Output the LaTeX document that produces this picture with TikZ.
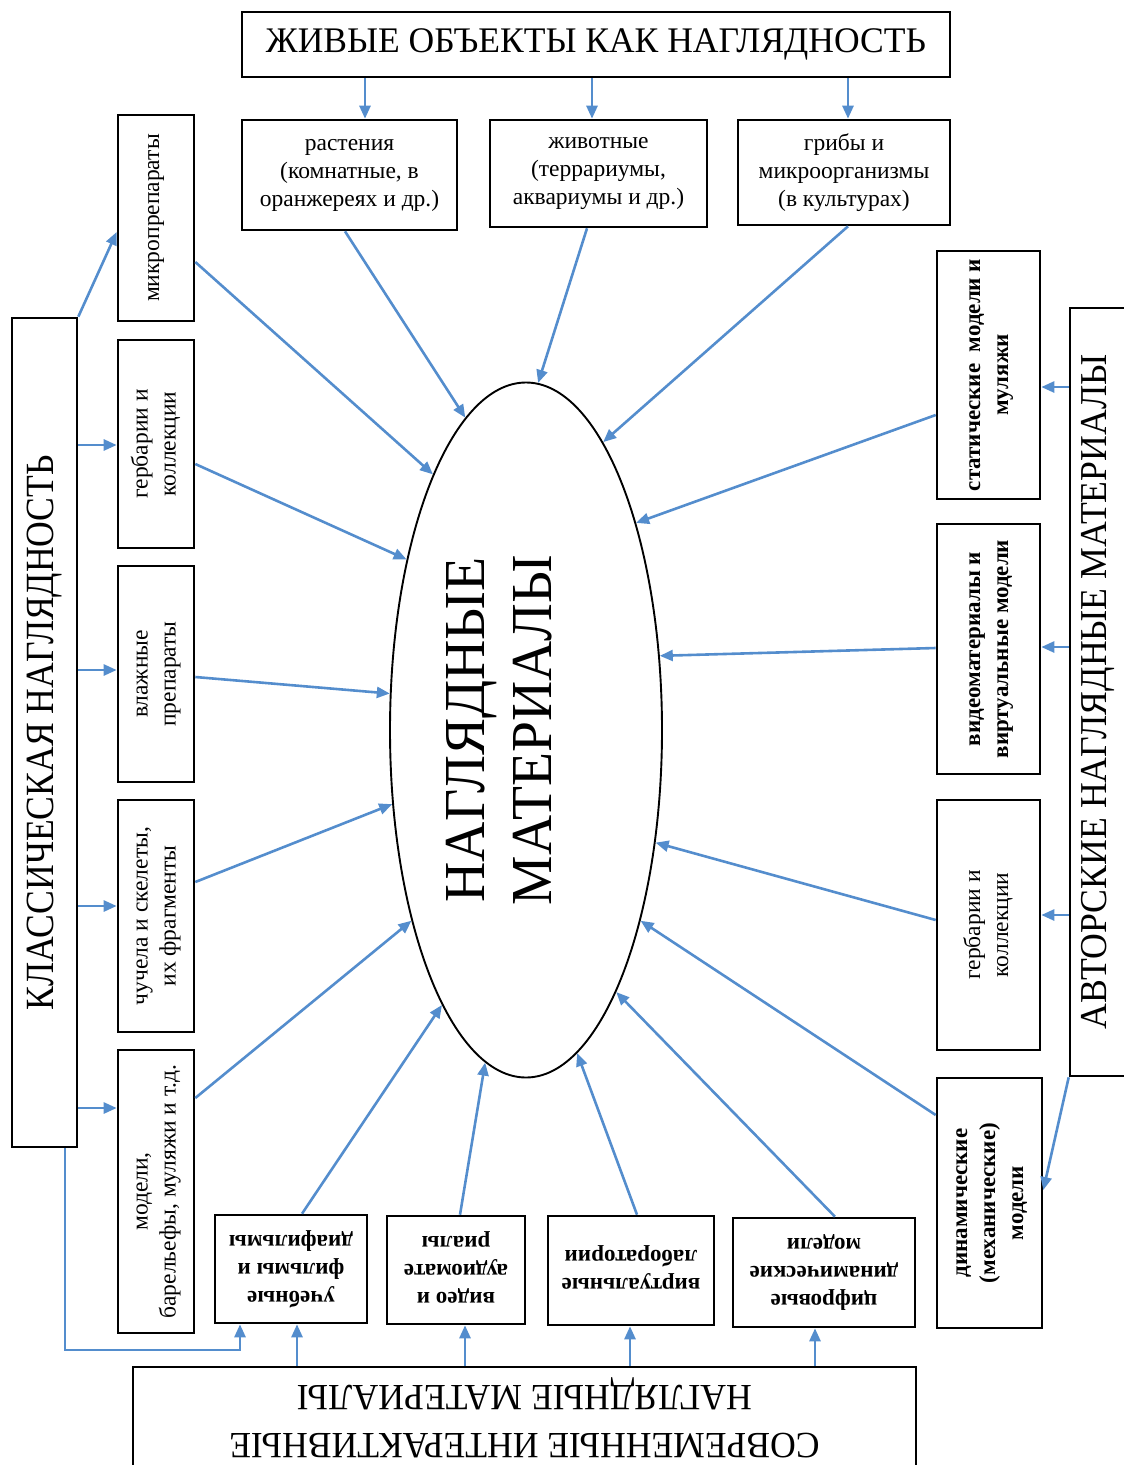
\documentclass[tikz,border=0pt]{standalone}
\usepackage{fontspec}
\setmainfont{Liberation Serif}
\usepackage{graphicx}
\usetikzlibrary{arrows.meta,shapes.geometric,calc}
\definecolor{arrblue}{RGB}{84,141,205}
\newcommand\hfit[2]{\resizebox{#1}{\height}{#2}}
\newcommand\tl[1]{\begin{tabular}{@{}c@{}}#1\end{tabular}}
\begin{document}
\begin{tikzpicture}[x=1pt,y=-1pt,
  box/.style={draw, line width=2.6pt, inner sep=0pt, align=center, font=\fontsize{23.5}{28}\selectfont},
  bbox/.style={box, font=\bfseries\fontsize{23}{28}\selectfont},
  arr/.style={draw=arrblue, line width=2.6pt, -{Triangle[length=13pt,width=11pt]}}]
\useasboundingbox (0,0) rectangle (1124,1465);
% top
\node[box, minimum width=708pt, minimum height=65pt, font=\fontsize{36}{40}\selectfont] (T) at (596,44.5) {\hfit{660pt}{ЖИВЫЕ ОБЪЕКТЫ КАК НАГЛЯДНОСТЬ}};
\node[box, minimum width=215pt, minimum height=110pt] (P) at (349.5,175) {растения\\(комнатные, в\\оранжереях и др.)};
\node[box, minimum width=217pt, minimum height=107pt] (An) at (598.5,173.5) {животные\\(террариумы,\\аквариумы и др.)};
\node[box, minimum width=212pt, minimum height=105pt] (F) at (844,172.5) {грибы и\\микроорганизмы\\(в культурах)};
% left
\node[box, minimum width=65pt, minimum height=829pt, font=\fontsize{40}{44}\selectfont] (L) at (44.5,732.5) {\rotatebox{90}{\hfit{555pt}{КЛАССИЧЕСКАЯ НАГЛЯДНОСТЬ}}};
\node[box, minimum width=76pt, minimum height=206pt] (B1) at (156,218) {\rotatebox{90}{микропрепараты}};
\node[box, minimum width=76pt, minimum height=208pt] (B2) at (156,444) {\rotatebox{90}{\tl{гербарии и\\коллекции}}};
\node[box, minimum width=76pt, minimum height=216pt] (B3) at (156,674) {\rotatebox{90}{\tl{влажные\\препараты}}};
\node[box, minimum width=76pt, minimum height=232pt] (B4) at (156,916) {\rotatebox{90}{\tl{чучела и скелеты,\\их фрагменты}}};
\node[box, minimum width=76pt, minimum height=283pt] (B5) at (156,1191.5) {\rotatebox{90}{\tl{модели,\\барельефы, муляжи и т.д.}}};
% right
\node[box, minimum width=56pt, minimum height=768pt, font=\fontsize{38}{42}\selectfont] (A) at (1098,692) {\rotatebox{90}{\hfit{675pt}{АВТОРСКИЕ НАГЛЯДНЫЕ МАТЕРИАЛЫ}}};
\node[bbox, minimum width=103pt, minimum height=248pt] (R1) at (988.5,375) {\rotatebox{90}{\tl{статические~~модели и\\муляжи}}};
\node[bbox, minimum width=103pt, minimum height=250pt] (R2) at (988.5,649) {\rotatebox{90}{\tl{видеоматериалы и\\виртуальные модели}}};
\node[box, minimum width=103pt, minimum height=250pt] (R3) at (988.5,925) {\rotatebox{90}{\tl{гербарии и\\коллекции}}};
\node[bbox, minimum width=105pt, minimum height=250pt] (R4) at (989.5,1203) {\rotatebox{90}{\tl{динамические\\(механические)\\модели}}};
% bottom
\node[bbox, minimum width=152pt, minimum height=108pt] (U) at (291,1269) {\rotatebox{180}{\tl{учебные\\фильмы и\\диафильмы}}};
\node[bbox, minimum width=138pt, minimum height=108pt] (V) at (456,1270) {\rotatebox{180}{\tl{видео и\\аудиомате\\риалы}}};
\node[bbox, minimum width=166pt, minimum height=109pt] (W) at (631,1270.5) {\rotatebox{180}{\tl{виртуальные\\лаборатории}}};
\node[bbox, minimum width=182pt, minimum height=109pt] (D) at (824,1272.5) {\rotatebox{180}{\tl{цифровые\\динамические\\модели}}};
\node[box, minimum width=783pt, minimum height=104pt, font=\fontsize{37}{48}\selectfont] (S) at (524.5,1419) {\rotatebox{180}{\tl{\hfit{590pt}{СОВРЕМЕННЫЕ ИНТЕРАКТИВНЫЕ}\\\hfit{455pt}{НАГЛЯДНЫЕ МАТЕРИАЛЫ}}}};
% centre
\node[draw, ellipse, line width=1.9pt, minimum width=272pt, minimum height=695pt, inner sep=0pt] (E) at (526,730) {};
\node[inner sep=0pt, font=\fontsize{58}{67}\selectfont] (Et) at (505,730) {\rotatebox{90}{\tl{\hfit{345pt}{НАГЛЯДНЫЕ}\\\hfit{350pt}{МАТЕРИАЛЫ}}}};
% helper levels
\coordinate (xa) at (365,0); \coordinate (xb) at (592,0); \coordinate (xc) at (848,0);
\coordinate (y2) at (0,445); \coordinate (y3) at (0,670); \coordinate (y4) at (0,906); \coordinate (y5) at (0,1108);
\coordinate (v0) at (65,0); \coordinate (h0) at (0,1350); \coordinate (v1) at (240,0);
\coordinate (xs1) at (297,0); \coordinate (xs2) at (465,0); \coordinate (xs3) at (630,0); \coordinate (xs4) at (815,0);
\coordinate (yr1) at (0,387); \coordinate (yr2) at (0,647); \coordinate (yr3) at (0,915);
% top arrows
\draw[arr] (T.south -| xa) -- (P.north -| xa);
\draw[arr] (T.south -| xb) -- (An.north -| xb);
\draw[arr] (T.south -| xc) -- (F.north -| xc);
% left arrows
\draw[arr] (L.north east) -- ([yshift=-14pt]B1.west);
\draw[arr] (L.east |- y2) -- (B2.west |- y2);
\draw[arr] (L.east |- y3) -- (B3.west |- y3);
\draw[arr] (L.east |- y4) -- (B4.west |- y4);
\draw[arr] (L.east |- y5) -- (B5.west |- y5);
\draw[arr] (L.south -| v0) -- (v0 |- h0) -- (v1 |- h0) -- (U.south -| v1);
% bottom arrows
\draw[arr] (S.north -| xs1) -- (U.south -| xs1);
\draw[arr] (S.north -| xs2) -- (V.south -| xs2);
\draw[arr] (S.north -| xs3) -- (W.south -| xs3);
\draw[arr] (S.north -| xs4) -- (D.south -| xs4);
% right arrows
\draw[arr] (A.west |- yr1) -- (R1.east |- yr1);
\draw[arr] (A.west |- yr2) -- (R2.east |- yr2);
\draw[arr] (A.west |- yr3) -- (R3.east |- yr3);
\draw[arr] (A.south west) -- ([yshift=13pt]R4.east);
% into ellipse
\draw[arr] ([yshift=-44pt]B1.east) -- (E.110.4);
\draw[arr] ([xshift=-4.5pt]P.south) -- (E.101.9);
\draw[arr] ([xshift=-11.5pt]An.south) -- (E.88.2);
\draw[arr] ([xshift=4pt]F.south) -- (E.75.1);
\draw[arr] ([yshift=-40pt]R1.west) -- (E.62.6);
\draw[arr] ([yshift=1pt]R2.west) -- (E.29.2);
\draw[arr] ([yshift=5pt]R3.west) -- (E.-41.8);
\draw[arr] ([yshift=88pt]R4.west) -- (E.-59.7);
\draw[arr] ([xshift=11pt]D.north) -- (E.-71.6);
\draw[arr] ([xshift=6pt]W.north) -- (E.-81.2);
\draw[arr] ([xshift=4pt]V.north) -- (E.263.9);
\draw[arr] ([xshift=11pt]U.north) -- (E.253.2);
\draw[arr] ([yshift=93.5pt]B5.east) -- (E.239.7);
\draw[arr] ([yshift=34pt]B4.east) -- (E.209.8);
\draw[arr] ([yshift=-3pt]B3.east) -- (E.165);
\draw[arr] ([yshift=-20pt]B2.east) -- (E.125);
\end{tikzpicture}
\end{document}
